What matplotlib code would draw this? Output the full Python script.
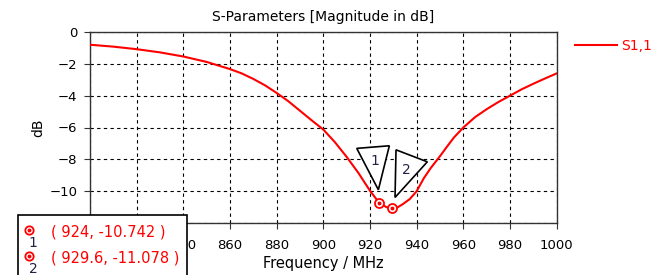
import matplotlib
matplotlib.use("Agg")
import matplotlib.pyplot as plt
from matplotlib.patches import Polygon, Rectangle

freq = [800, 810, 820, 830, 840, 850, 860, 865, 870, 875, 880, 885, 890, 895, 900,
        905, 910, 915, 920, 924, 927, 929.6, 932, 934, 937, 940, 943, 946, 950, 953,
        956, 960, 965, 970, 975, 980, 985, 990, 995, 1000]
s11 = [-0.80, -0.92, -1.08, -1.28, -1.54, -1.88, -2.33, -2.60, -2.95, -3.35, -3.83,
       -4.35, -4.95, -5.55, -6.13, -6.93, -7.85, -8.85, -9.98, -10.742, -11.00, -11.078,
       -11.00, -10.82, -10.50, -10.00, -9.20, -8.55, -7.80, -7.20, -6.62, -6.00, -5.35,
       -4.85, -4.40, -4.00, -3.60, -3.25, -2.92, -2.60]
marker_freq = [924, 929.6]
marker_db = [-10.742, -11.078]
marker_names = ["1", "2"]

plt.rcParams['font.family'] = ['DejaVu Sans']
plt.rcParams['font.size'] = 9

fig = plt.figure(figsize=(6.67, 2.75), dpi=100)
ax = fig.add_axes([90/667, 1-223/275, (556.7-90)/667, (223-32)/275])

ax.plot(freq, s11, color='red', lw=1.5, label='S1,1', zorder=3)
ax.plot(marker_freq, marker_db, 'o', ms=6.5, mfc='white', mec='red', mew=1.3, zorder=4)
ax.plot(marker_freq, marker_db, 'o', ms=1.8, color='red', zorder=5)

ax.set_xlim(800, 1000)
ax.set_ylim(-12, 0)
ax.set_xticks(range(800, 1001, 20))
ax.set_yticks(range(-12, 1, 2))
ax.grid(True, color='black', ls=(0, (3, 3)), lw=0.8)
ax.tick_params(length=4, width=0.8, color='#333333', labelsize=9.5)
ax.tick_params(axis='x', pad=7.5)
ax.tick_params(axis='y', pad=5)
for s in ax.spines.values():
    s.set_color('#333333')
    s.set_linewidth(1)

ax.set_title('S-Parameters [Magnitude in dB]', fontsize=10, pad=8)
ax.set_xlabel('Frequency / MHz', fontsize=10.5, labelpad=3)
ax.set_ylabel('dB', fontsize=10, labelpad=3)

ax.legend(loc='center left', bbox_to_anchor=(575/667, 1-46/275), bbox_transform=fig.transFigure,
          frameon=False, borderpad=0, borderaxespad=0, handlelength=3.0, handletextpad=0.3,
          labelcolor='red', fontsize=10)

# marker flags (pixel offsets from marker point, image coords: y down)
flags = [[(-22.6, -54.6), (10.0, -57.2), (-1.0, -13.2)],
         [(3.6, -58.5), (34.9, -46.5), (2.6, -10.9)]]
fig.canvas.draw()
for (mf, md, name, tri) in zip(marker_freq, marker_db, marker_names, flags):
    px, py = ax.transData.transform((mf, md))
    pts = [(px + dx, py - dy) for dx, dy in tri]
    poly = Polygon(pts, closed=True, fc='white', ec='black', lw=1.2, transform=None, zorder=6)
    fig.patches.append(poly)
    cx = sum(p[0] for p in pts) / 3
    cy = sum(p[1] for p in pts) / 3
    fig.text(cx / fig.dpi / 6.67, cy / fig.dpi / 2.75, name, ha='center', va='center',
             fontsize=10, color='#222244', zorder=7)

# marker value box
box = Rectangle((18.3/667, -0.05), (186.7-18.3)/667, 1-215/275+0.05, transform=fig.transFigure,
                fc='white', ec='black', lw=1.2, zorder=10)
fig.patches.append(box)
rows_y = [231.7, 257.7]
for (mf, md, name, ry) in zip(marker_freq, marker_db, marker_names, rows_y):
    fig.text(50.7/667, 1-ry/275, '( %g, %g )' % (mf, md), color='red', ha='left', va='center',
             fontsize=10.5, zorder=11)
    fig.text(33/667, 1-(ry+11)/275, name, color='#222244', ha='center', va='center',
             fontsize=10, zorder=11)
    fig.lines.append(plt.Line2D([29.3/667], [1-(ry-1.5)/275], transform=fig.transFigure, marker='o',
                                ms=6, mfc='white', mec='red', mew=1.3, zorder=12))
    fig.lines.append(plt.Line2D([29.3/667], [1-(ry-1.5)/275], transform=fig.transFigure, marker='o',
                                ms=1.8, color='red', zorder=13))

fig.savefig('out.png', dpi=100, facecolor='white')
